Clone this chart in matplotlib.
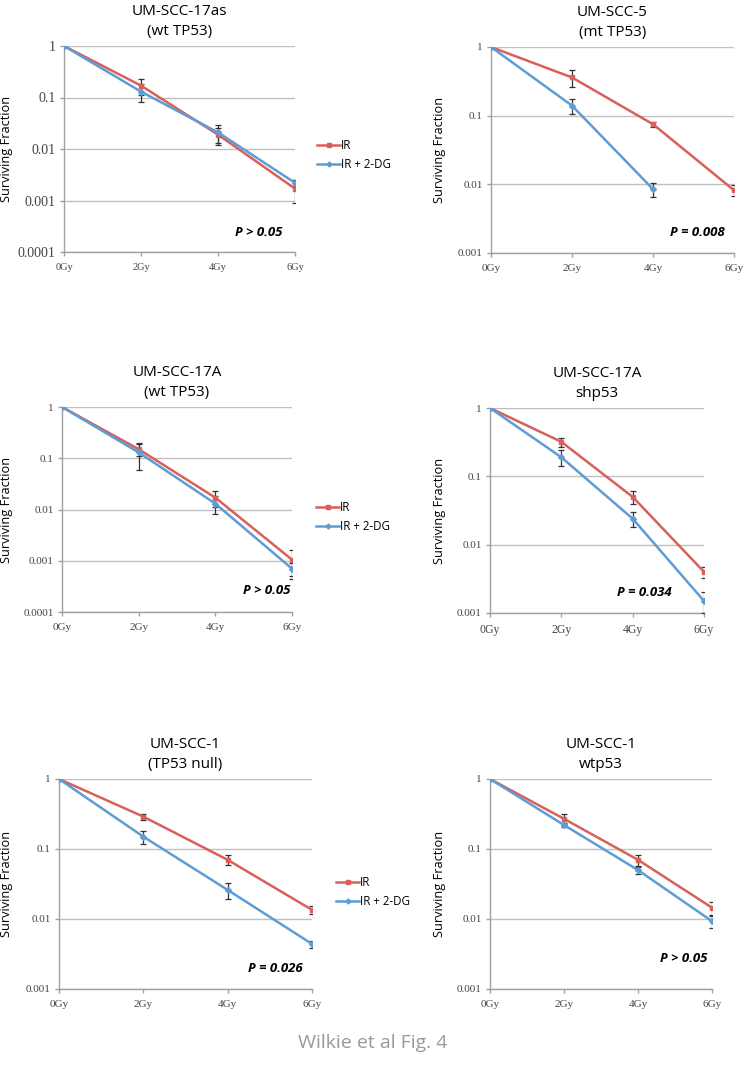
import numpy as np
from matplotlib import pyplot as plt
from matplotlib.lines import Line2D

# dose labels shared by all panels
doses = ['0Gy', '2Gy', '4Gy', '6Gy']

# panel titles
titles = ['UM-SCC-17as\n(wt TP53)', 'UM-SCC-5\n(mt TP53)',
          'UM-SCC-17A\n(wt TP53)', 'UM-SCC-17A\nshp53',
          'UM-SCC-1\n(TP53 null)', 'UM-SCC-1\nwtp53']
pvals = ['P > 0.05', 'P = 0.008', 'P > 0.05', 'P = 0.034', 'P = 0.026', 'P > 0.05']

# surviving fraction, IR alone
ir_17as = [1, 0.17, 0.019, 0.0017]
ir_5 = [1, 0.36, 0.075, 0.0082]
ir_17a = [1, 0.15, 0.017, 0.00105]
ir_17a_sh = [1, 0.32, 0.05, 0.004]
ir_1 = [1, 0.29, 0.07, 0.0135]
ir_1_wt = [1, 0.27, 0.07, 0.0145]

# errors, IR alone
ir_17as_err = [0, 0.06, 0.007, 0.0008]
ir_5_err = [0, 0.1, 0.006, 0.0015]
ir_17a_err = [0, 0.04, 0.006, 0.0006]
ir_17a_sh_err = [0, 0.05, 0.01, 0.0007]
ir_1_err = [0, 0.03, 0.011, 0.0018]
ir_1_wt_err = [0, 0.045, 0.013, 0.003]

# surviving fraction, IR + 2-DG
dg_17as = [1, 0.13, 0.021, 0.0022]
dg_5 = [1, 0.14, 0.0085]
dg_17a = [1, 0.13, 0.013, 0.0007]
dg_17a_sh = [1, 0.19, 0.024, 0.0015]
dg_1 = [1, 0.15, 0.026, 0.0044]
dg_1_wt = [1, 0.22, 0.05, 0.0093]

# errors, IR + 2-DG
dg_17as_err = [0, 0.05, 0.008, 0.0003]
dg_5_err = [0, 0.035, 0.002]
dg_17a_err = [0, 0.07, 0.005, 0.0002]
dg_17a_sh_err = [0, 0.05, 0.006, 0.0005]
dg_1_err = [0, 0.033, 0.007, 0.0005]
dg_1_wt_err = [0, 0.012, 0.006, 0.0018]

ir_all = [ir_17as, ir_5, ir_17a, ir_17a_sh, ir_1, ir_1_wt]
ir_err_all = [ir_17as_err, ir_5_err, ir_17a_err, ir_17a_sh_err, ir_1_err, ir_1_wt_err]
dg_all = [dg_17as, dg_5, dg_17a, dg_17a_sh, dg_1, dg_1_wt]
dg_err_all = [dg_17as_err, dg_5_err, dg_17a_err, dg_17a_sh_err, dg_1_err, dg_1_wt_err]

# lowest decade on each y axis
ymins = [1e-4, 1e-3, 1e-4, 1e-3, 1e-3, 1e-3]

# pixel boxes (left, right, top, bottom) of each plot area
boxes = [(64, 295, 46, 252), (491, 734, 47, 253),
         (62, 292, 407, 612), (490, 704, 408, 613),
         (59, 312, 779, 989), (490, 712, 779, 989)]
# where the P text ends (right edge x, center y) in pixels
ptext = [(282, 232), (725, 232), (290, 590), (672, 593), (303, 969), (707, 958)]
# legend (left x, centre y) for left column panels
legpos = {0: (317, 155), 2: (316, 517), 4: (336, 892)}
# tick label sizes (y, x) per panel
tick_sizes = [(10, 7.5), (8, 8), (8, 8), (8, 8.5), (8, 8), (8, 8)]

W, H = 745, 1084
red = '#D9605A'
blue = '#5E9CD6'

fig = plt.figure(figsize=(W / 100, H / 100), dpi=100)

for i in range(6):
    l, r, t, b = boxes[i]
    ax = fig.add_axes([l / W, 1 - b / H, (r - l) / W, (b - t) / H])
    x = np.arange(len(doses))
    ax.set_yscale('log')

    ax.errorbar(x, ir_all[i], yerr=ir_err_all[i], color=red, lw=1.8,
                marker='s', ms=3, ecolor='#333333', elinewidth=0.9,
                capsize=2, capthick=0.9, zorder=3)
    xd = np.arange(len(dg_all[i]))
    ax.errorbar(xd, dg_all[i], yerr=dg_err_all[i], color=blue, lw=1.8,
                marker='D', ms=3, ecolor='#333333', elinewidth=0.9,
                capsize=2, capthick=0.9, zorder=3)

    ys, xs = tick_sizes[i]
    ax.set_xlim(0, 3)
    ax.set_ylim(ymins[i], 1)
    ax.set_xticks(x)
    ax.set_xticklabels(doses, family='Liberation Serif', size=xs, color='#444444')
    decades = 10.0 ** np.arange(np.log10(ymins[i]), 0.5)
    ax.set_yticks(decades)
    ax.set_yticklabels(['%g' % d if d >= 1e-3 else '0.0001' for d in decades],
                       family='Liberation Serif', size=ys, color='#444444')
    ax.minorticks_off()
    ax.yaxis.grid(True, color='#c0c0c0', lw=1)
    ax.set_axisbelow(True)
    for s in ['top', 'right']:
        ax.spines[s].set_visible(False)
    for s in ['left', 'bottom']:
        ax.spines[s].set_color('#a0a0a0')
        ax.spines[s].set_linewidth(1)
    ax.tick_params(axis='both', color='#a0a0a0', length=3, width=1, pad=3)
    ax.tick_params(axis='x', pad=5)

    ax.set_title(titles[i], fontsize=11, family='Open Sans', pad=8, linespacing=1.45)
    ax.set_ylabel('Surviving Fraction', fontsize=9.2, family='Open Sans')
    lx = 13 if i % 2 == 0 else 446
    ax.yaxis.set_label_coords((lx - l) / (r - l), 0.5)

    px, py = ptext[i]
    ax.text((px - l) / (r - l), (b - py) / (b - t), pvals[i], transform=ax.transAxes,
            ha='right', va='center', fontsize=9.5, fontweight='bold',
            style='italic', family='Open Sans')

    if i in legpos:
        gx, gy = legpos[i]
        handles = [Line2D([], [], color=red, lw=1.8, marker='s', ms=2.5),
                   Line2D([], [], color=blue, lw=1.8, marker='D', ms=2.5)]
        fig.legend(handles, ['IR', 'IR + 2-DG'], loc='center left',
                   bbox_to_anchor=(gx / W, 1 - gy / H), frameon=False,
                   prop={'family': 'Open Sans', 'size': 8.3}, handlelength=2.0,
                   handletextpad=0.1, borderaxespad=0, borderpad=0,
                   labelspacing=0.55)

fig.text(0.5, 1 - 1043 / H, 'Wilkie et al Fig. 4', ha='center', va='center',
         fontsize=14, color='#999999', family='Open Sans')

plt.savefig('out.png', dpi=100)
